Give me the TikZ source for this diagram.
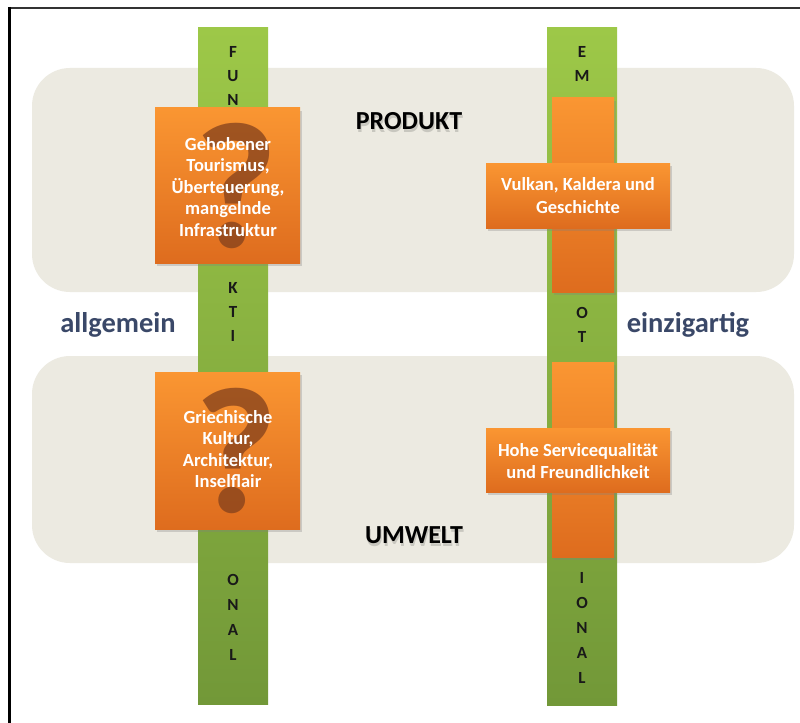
\documentclass[tikz,border=0pt]{standalone}
\usepackage{fontspec}
\setmainfont{Carlito}
\usetikzlibrary{shadows}
\definecolor{bandc}{RGB}{236,234,225}
\definecolor{greentop}{RGB}{157,200,72}
\definecolor{greenbot}{RGB}{114,152,56}
\definecolor{orangetop}{RGB}{250,150,50}
\definecolor{orangebot}{RGB}{222,108,30}
\definecolor{qbrown}{RGB}{130,64,28}
\definecolor{labelblue}{RGB}{58,72,104}
\tikzset{
  bandbox/.style={fill=bandc, draw=none, rounded corners=38bp},
  greenbar/.style={top color=greentop, bottom color=greenbot, draw=none},
  orangebox/.style={top color=orangetop, bottom color=orangebot, draw=none,
     drop shadow={opacity=0.3, shadow xshift=2bp, shadow yshift=-3bp}},
  letter/.style={font=\fontsize{17bp}{17bp}\selectfont\bfseries, text=black!90, inner sep=0pt},
  boxtext/.style={font=\fontsize{18.5bp}{21.5bp}\selectfont\bfseries, text=white, align=center, inner sep=0pt},
  qmark/.style={font=\fontsize{180bp}{180bp}\selectfont\bfseries, text=qbrown, text opacity=0.75, inner sep=0pt, anchor=base},
  sidelabel/.style={font=\fontsize{28.5bp}{28.5bp}\selectfont\bfseries, text=labelblue, inner sep=0pt},
  bandlabel/.style={font=\fontsize{26bp}{26bp}\selectfont\bfseries, text=black, inner sep=0pt},
  shadowlabel/.style={font=\fontsize{26bp}{26bp}\selectfont\bfseries, text=black, text opacity=0.15, inner sep=0pt},
}
\begin{document}
\begin{tikzpicture}[x=1bp,y=-1bp]
\useasboundingbox (0,0) rectangle (800,723);
\fill[white] (0,0) rectangle (800,723);
% frame
\draw[line width=2bp, black!80] (8,8) -- (800,8);
\draw[line width=3bp, black] (9.5,7) -- (9.5,723);
% bands
\path[bandbox] (32,68) rectangle (794,292);
\path[bandbox] (32,356) rectangle (794,563);
% green bars
\path[greenbar] (198,28) rectangle (268,704);
\path[greenbar] (547,28) rectangle (617,705);
% band labels
\node[shadowlabel] at (410,124) {PRODUKT};
\node[bandlabel] (produkt) at (409,121) {PRODUKT};
\node[shadowlabel] at (415,538) {UMWELT};
\node[bandlabel] (umwelt) at (414,535) {UMWELT};
\node[sidelabel] (allg) at (118,325) {allgemein};
\node[sidelabel] (einz) at (688,325) {einzigartig};
% left bar letters
\node[letter] (lF) at (233,52) {F};
\node[letter] (lU) at (233,76) {U};
\node[letter] (lN) at (233,100) {N};
\node[letter] (lK) at (233,288) {K};
\node[letter] (lT) at (233,312) {T};
\node[letter] (lI) at (233,336) {I};
\node[letter] (lO2) at (233,580) {O};
\node[letter] (lN2) at (233,605) {N};
\node[letter] (lA2) at (233,630) {A};
\node[letter] (lL2) at (233,655) {L};
% right bar letters
\node[letter] (rE) at (582,52) {E};
\node[letter] (rM) at (582,76) {M};
\node[letter] (rO) at (582,313) {O};
\node[letter] (rT) at (582,337) {T};
\node[letter] (rI2) at (582,578) {I};
\node[letter] (rO2) at (582,603) {O};
\node[letter] (rN2) at (582,628) {N};
\node[letter] (rA2) at (582,653) {A};
\node[letter] (rL2) at (582,678) {L};
% left squares
\path[orangebox] (155,108) rectangle (300,263);
\node[qmark] (q1) at (236,247) {?};
\node[boxtext] (t1) at (228,187) {Gehobener\\Tourismus,\\Überteuerung,\\mangelnde\\Infrastruktur};
\path[orangebox] (155,372) rectangle (300,529);
\node[qmark] (q2) at (236,512) {?};
\node[boxtext] (t2) at (228,449) {Griechische\\Kultur,\\Architektur,\\Inselflair};
% right crosses
\path[orangebox] (552,98) rectangle (614,292);
\path[orangebox] (486,163) rectangle (670,228);
\node[boxtext, font=\fontsize{18.5bp}{23bp}\selectfont\bfseries] (t3) at (578,196) {Vulkan, Kaldera und\\Geschichte};
\path[orangebox] (552,362) rectangle (614,557);
\path[orangebox] (486,428) rectangle (670,492);
\node[boxtext, font=\fontsize{18.5bp}{22bp}\selectfont\bfseries] (t4) at (578,461) {Hohe Servicequalität\\und Freundlichkeit};
\end{tikzpicture}
\end{document}
